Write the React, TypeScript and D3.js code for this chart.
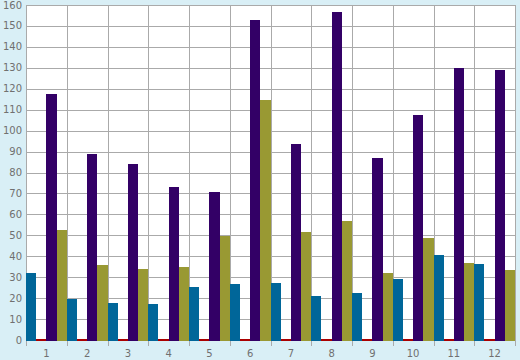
import React from "react";
import * as d3 from "d3";

const categories = ["1", "2", "3", "4", "5", "6", "7", "8", "9", "10", "11", "12"];
const seriesNames = ["blue", "red", "purple", "olive"];
const blueValues = [32, 19.6, 17.7, 17.2, 25.3, 26.7, 27.2, 21, 22.4, 29.1, 40.6, 36.3];
const redValues = [0.5, 0.5, 0.5, 0.5, 0.5, 0.5, 0.5, 0.5, 0.5, 0.5, 0.5, 0.5];
const purpleValues = [117.5, 88.8, 84.1, 73.1, 70.7, 152.8, 93.6, 156.7, 86.9, 107.5, 129.9, 128.9];
const oliveValues = [52.5, 35.8, 33.9, 34.9, 49.7, 114.6, 51.6, 56.8, 32, 48.7, 36.8, 33.4];
const yTicks = [0, 10, 20, 30, 40, 50, 60, 70, 80, 90, 100, 110, 120, 130, 140, 150, 160];
const seriesColors = ["#006699", "#aa0000", "#330066", "#999933"];

const W = 520;
const H = 360;
const left = 26;
const right = 515;
const top = 5;
const bottom = 340;

export default function App() {
  const series = [blueValues, redValues, purpleValues, oliveValues];
  const x = d3.scaleBand<string>().domain(categories).range([left, right]).padding(0);
  const xs = d3.scaleBand<string>().domain(seriesNames).range([0, x.bandwidth()]).padding(0);
  const y = d3.scaleLinear().domain([0, 160]).range([bottom, top]);
  const font = "'DejaVu Sans', Verdana, sans-serif";
  const boundaries = categories.map((c) => x(c) as number).concat([right]);

  return (
    <svg
      width={W}
      height={H}
      style={{ position: "absolute", left: 0, top: 0, display: "block" }}
      shapeRendering="crispEdges"
    >
      <rect x={0} y={0} width={W} height={H} fill="#d9eff6" />
      <rect x={left} y={top} width={right - left} height={bottom - top} fill="#ffffff" />
      {yTicks.map((t) => (
        <line key={"h" + t} x1={left} x2={right} y1={Math.round(y(t)) + 0.5} y2={Math.round(y(t)) + 0.5} stroke="#aaaaaa" strokeWidth={1} />
      ))}
      {boundaries.map((b, i) => (
        <line key={"v" + i} x1={Math.round(b) + 0.5} x2={Math.round(b) + 0.5} y1={top} y2={bottom + 6} stroke="#aaaaaa" strokeWidth={1} />
      ))}
      {series.map((vals, si) =>
        vals.map((v, ci) => {
          const x0 = (x(categories[ci]) as number) + (xs(seriesNames[si]) as number);
          const yv = Math.min(Math.round(y(v)), bottom - 1);
          return (
            <rect
              key={si + "-" + ci}
              x={x0}
              y={yv}
              width={xs.bandwidth()}
              height={bottom + 1 - yv}
              fill={seriesColors[si]}
            />
          );
        })
      )}
      {yTicks.map((t) => (
        <text key={"yl" + t} x={22} y={y(t) + 3.5} textAnchor="end" fontFamily={font} fontSize={10} fill="#707070">
          {t}
        </text>
      ))}
      {categories.map((c) => (
        <text key={"xl" + c} x={(x(c) as number) + x.bandwidth() / 2} y={357} textAnchor="middle" fontFamily={font} fontSize={10} fill="#707070">
          {c}
        </text>
      ))}
    </svg>
  );
}
